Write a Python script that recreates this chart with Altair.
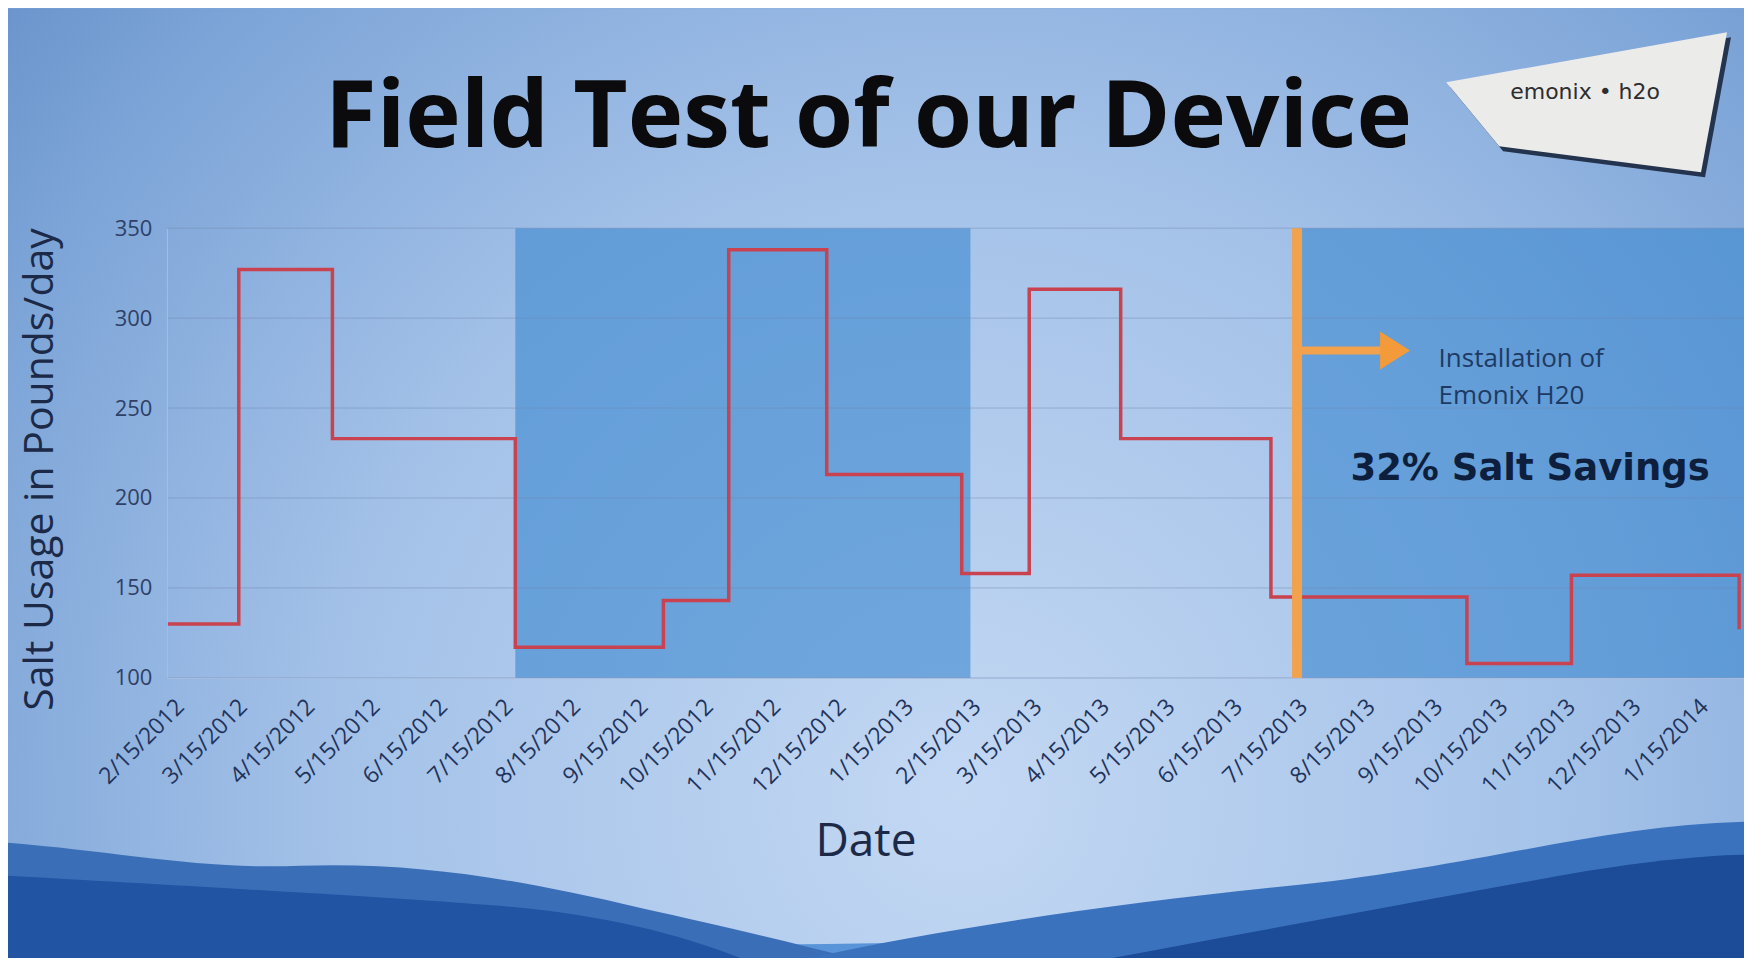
import altair as alt
import pandas as pd

# ------------------------------------------------------------------ data
step_dates = ["2012-02-09", "2012-03-13", "2012-04-25", "2012-07-18", "2012-09-24",
              "2012-10-24", "2012-12-08", "2013-02-08", "2013-03-11", "2013-04-22",
              "2013-06-30", "2013-09-28", "2013-11-15", "2014-01-31"]
salt_lbs_per_day = [130, 327, 233, 117, 143, 338, 213, 158, 316, 233, 145, 108, 157, 127]

tick_dates = ["2012-02-15", "2012-03-15", "2012-04-15", "2012-05-15", "2012-06-15",
              "2012-07-15", "2012-08-15", "2012-09-15", "2012-10-15", "2012-11-15",
              "2012-12-15", "2013-01-15", "2013-02-15", "2013-03-15", "2013-04-15",
              "2013-05-15", "2013-06-15", "2013-07-15", "2013-08-15", "2013-09-15",
              "2013-10-15", "2013-11-15", "2013-12-15", "2014-01-15"]
y_ticks = [100, 150, 200, 250, 300, 350]

band_starts = ["2012-07-18", "2013-07-13"]
band_ends = ["2013-02-12", "2014-02-02T06:00:00"]

install_date = "2013-07-12"
arrow_end_date = "2013-08-21"
arrow_head_date = "2013-08-26"
arrow_level = 282

note_dates = ["2013-09-15", "2013-09-15"]
note_values = [273, 252]
note_texts = ["Installation of", "Emonix H20"]
savings_date = "2013-10-27"
savings_value = 210
savings_text = "32% Salt Savings"

x_domain = ["2012-02-09", "2014-02-02T06:00:00"]
y_domain = [100, 350]

title_text = "Field Test of our Device"
logo_text = "emonix \u2022 h2o"

# ------------------------------------------------------------------ layout
W, H = 1578, 450
PAD_L, PAD_T, PAD_R, PAD_B = 159, 220, 0, 280
OX, OY = 167, 228  # page position of plot origin


def to_dt(values):
    return pd.to_datetime(values, format="ISO8601")


def dt(s):
    t = pd.Timestamp(s)
    return alt.DateTime(year=t.year, month=t.month, date=t.day, hours=t.hour)


def rel_path(cmds):
    out = []
    for c in cmds:
        if isinstance(c, str):
            out.append(c)
        else:
            out.append(f"{c[0] - OX:.1f} {c[1] - OY:.1f}")
    return " ".join(out)


x_scale = alt.Scale(domain=[dt(d) for d in x_domain])
y_scale = alt.Scale(domain=y_domain, nice=False, zero=False)

x_axis = alt.Axis(
    values=[dt(d) for d in tick_dates], format="%-m/%-d/%Y", labelAngle=-45,
    labelAlign="right", labelBaseline="middle", labelFont="Open Sans",
    labelFontSize=23, labelColor="#22335a", labelPadding=25, labelOverlap=False,
    labelBound=False, labelFlush=False, ticks=False, grid=False, domain=True,
    domainColor="#a9bfe0", domainWidth=1, zindex=1,
    titleFont="Open Sans", titleFontSize=46, titleFontWeight="normal",
    titleColor="#1c2a48", titleX=699, titleY=164, titleAlign="center",
    titleBaseline="middle", titleAngle=0)
y_axis = alt.Axis(
    values=y_ticks, labelFont="Open Sans", labelFontSize=22, labelColor="#2f4066",
    labelPadding=15, ticks=False, grid=False, domain=True, domainColor="#a9bfe0",
    zindex=1,
    titleFont="Open Sans", titleFontSize=41, titleFontWeight="normal",
    titleColor="#1c2a48", titleX=-126, titleY=241, titleAngle=270,
    titleAlign="center", titleBaseline="middle")

X_TITLE = "Date"
Y_TITLE = "Salt Usage in Pounds/day"


def X(field):
    return alt.X(f"{field}:T", scale=x_scale, axis=x_axis, title=X_TITLE)


def Y(field):
    return alt.Y(f"{field}:Q", scale=y_scale, axis=y_axis, title=Y_TITLE)


one = pd.DataFrame({"k": [0]})

# ------------------------------------------------------------------ background
bg = alt.Chart(one).mark_rect(
    fill=alt.RadialGradient(
        gradient="radial",
        stops=[alt.GradientStop(offset=0, color="#c3d8f3"),
               alt.GradientStop(offset=0.45, color="#a3c1e8"),
               alt.GradientStop(offset=0.75, color="#7ca4d7"),
               alt.GradientStop(offset=1, color="#5885c1")],
        x1=0.55, y1=0.68, r1=0, x2=0.55, y2=0.68, r2=0.82),
).encode(x=alt.value(-PAD_L), x2=alt.value(W + PAD_R),
         y=alt.value(-PAD_T), y2=alt.value(H + PAD_B))

waves_df = pd.DataFrame({
    "shape": [
        rel_path(["M", (8, 935), "C", (600, 955), (1200, 950), (1745, 895), "L", (1745, 970), "L", (8, 970), "Z"]),
        rel_path(["M", (8, 843), "C", (120, 852), (200, 870), (300, 866), "C", (420, 862), (520, 880), (640, 908),
                  "C", (740, 930), (820, 950), (900, 970), "L", (8, 970), "Z"]),
        rel_path(["M", (8, 876), "C", (150, 884), (350, 895), (500, 906), "C", (620, 916), (700, 940), (770, 970),
                  "L", (8, 970), "Z"]),
        rel_path(["M", (760, 970), "C", (900, 935), (1100, 905), (1300, 885), "C", (1480, 866), (1600, 826),
                  (1745, 822), "L", (1745, 970), "Z"]),
        rel_path(["M", (1050, 970), "C", (1200, 942), (1400, 905), (1560, 876), "C", (1640, 862), (1700, 856),
                  (1745, 855), "L", (1745, 970), "Z"]),
    ],
    "c": ["#5a94d8", "#3a6fb8", "#2154a3", "#3b72be", "#1c4b97"],
})
waves = alt.Chart(waves_df).mark_point(filled=True, size=4, opacity=1, strokeWidth=0).encode(
    x=alt.value(0), y=alt.value(0),
    shape=alt.Shape("shape:N", scale=None, legend=None),
    color=alt.Color("c:N", scale=None, legend=None))

logo_pts = [(1447, 82), (1728, 32), (1702, 172), (1500, 146)]
logo_df = pd.DataFrame({
    "shape": [
        rel_path(["M", (logo_pts[0][0] + 4, logo_pts[0][1] + 5), "L", (logo_pts[1][0] + 4, logo_pts[1][1] + 5),
                  "L", (logo_pts[2][0] + 4, logo_pts[2][1] + 5), "L", (logo_pts[3][0] + 4, logo_pts[3][1] + 5), "Z"]),
        rel_path(["M", logo_pts[0], "L", logo_pts[1], "L", logo_pts[2], "L", logo_pts[3], "Z"]),
    ],
    "c": ["#24344e", "#ebebe9"],
})
logo = alt.Chart(logo_df).mark_point(filled=True, size=4, opacity=1, strokeWidth=0).encode(
    x=alt.value(0), y=alt.value(0),
    shape=alt.Shape("shape:N", scale=None, legend=None),
    color=alt.Color("c:N", scale=None, legend=None))
logo_label = alt.Chart(pd.DataFrame({"t": [logo_text]})).mark_text(
    font="DejaVu Sans", fontSize=22, color="#2e2e2e", align="center", baseline="alphabetic"
).encode(x=alt.value(1586 - OX), y=alt.value(99 - OY), text="t:N")

title = alt.Chart(pd.DataFrame({"t": [title_text]})).mark_text(
    font="Open Sans", fontSize=94, fontWeight="bold", color="#0b0b0d",
    align="center", baseline="alphabetic"
).encode(x=alt.value(869 - OX), y=alt.value(147 - OY), text="t:N")

# ------------------------------------------------------------------ chart
bands_df = pd.DataFrame({"start": to_dt(band_starts), "end": to_dt(band_ends),
                         "lo": [y_domain[0]] * 2, "hi": [y_domain[1]] * 2})
bands = alt.Chart(bands_df).mark_rect(color="#3b87cf", opacity=0.6).encode(
    x=X("start"), x2="end", y=Y("lo"), y2="hi")

grid = alt.Chart(pd.DataFrame({"v": y_ticks})).mark_rule(
    color="#6f86ad", opacity=0.45, strokeWidth=1).encode(y=Y("v"))

line_df = pd.DataFrame({"date": to_dt(step_dates), "salt": salt_lbs_per_day})
line = alt.Chart(line_df).mark_line(
    interpolate="step-after", color="#c9424f", strokeWidth=3.5, clip=True
).encode(x=X("date"), y=Y("salt"))

install_df = pd.DataFrame({"date": to_dt([install_date]), "end": to_dt([arrow_end_date]),
                           "head": to_dt([arrow_head_date]),
                           "lo": [y_domain[0]], "hi": [y_domain[1]], "lvl": [arrow_level]})
install_rule = alt.Chart(install_df).mark_rule(color="#f2a14c", strokeWidth=10).encode(
    x=X("date"), y=Y("lo"), y2="hi")
arrow_shaft = alt.Chart(install_df).mark_rule(color="#f2a14c", strokeWidth=8).encode(
    x=X("date"), x2="end", y=Y("lvl"))
arrow_head = alt.Chart(install_df).mark_point(
    shape="M -15 -19 L 15 0 L -15 19 Z", size=4, filled=True, opacity=1, color="#f39a3a", strokeWidth=0
).encode(x=X("head"), y=Y("lvl"))

notes_df = pd.DataFrame({"date": to_dt(note_dates), "v": note_values, "t": note_texts})
notes = alt.Chart(notes_df).mark_text(
    font="Open Sans", fontSize=26, color="#1e3a63", align="left", baseline="alphabetic"
).encode(x=X("date"), y=Y("v"), text="t:N")

sav_df = pd.DataFrame({"date": to_dt([savings_date]), "v": [savings_value], "t": [savings_text]})
savings = alt.Chart(sav_df).mark_text(
    font="DejaVu Sans", fontSize=37, fontWeight="bold", color="#0e1f3d", align="center", baseline="alphabetic"
).encode(x=X("date"), y=Y("v"), text="t:N")

chart = alt.layer(
    bg, waves, logo, logo_label, title, bands, grid, line,
    install_rule, arrow_shaft, arrow_head, notes, savings
).properties(
    width=W, height=H,
    padding={"left": PAD_L, "top": PAD_T, "right": PAD_R, "bottom": PAD_B},
    autosize=alt.AutoSizeParams(type="none"),
    background="#6e99d0",
).configure_view(strokeWidth=0)

chart.save("out.html", embed_options={"renderer": "svg", "actions": False})
